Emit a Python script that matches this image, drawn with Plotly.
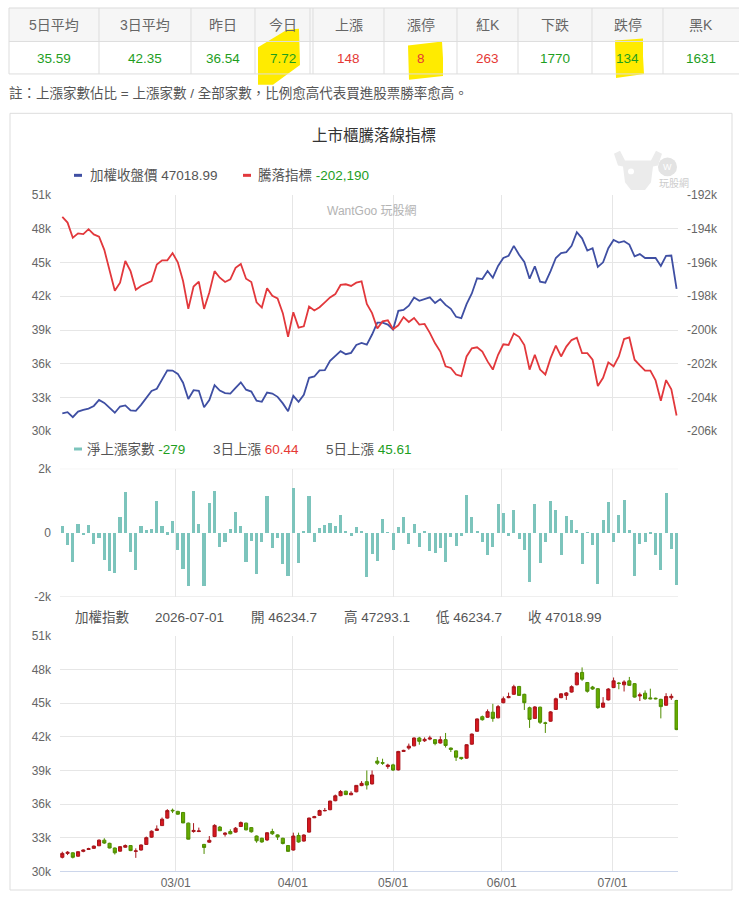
import plotly.graph_objects as go

W, H = 739, 898
FONT = "Arial, 'Liberation Sans', 'Noto Sans CJK TC', sans-serif"
TXT = "#555555"
AX = "#666666"
GRID = "#e6e6e6"
GREEN = "#1e9e1e"
RED = "#e53935"
BLUE = "#3f4fa3"
RED_LINE = "#e2383c"
TEAL = "#7cc4bc"
YELLOW = "#ffeb00"

# ---- summary table ----
table_heads = ["5日平均", "3日平均", "昨日", "今日", "上漲", "漲停", "紅K", "下跌", "跌停", "黑K"]
table_vals = ["35.59", "42.35", "36.54", "7.72", "148", "8", "263", "1770", "134", "1631"]
table_val_colors = [GREEN, GREEN, GREEN, GREEN, RED, RED, RED, GREEN, GREEN, GREEN]
note_text = "註：上漲家數佔比 = 上漲家數 / 全部家數，比例愈高代表買進股票勝率愈高。"

# ---- chart data (trading days) ----
month_ticks = [21.6, 43.9, 63.0, 83.7, 104.8]
month_labels = ["03/01", "04/01", "05/01", "06/01", "07/01"]

open_px = [31250, 31600, 31650, 31350, 31780, 31950, 32050, 32280, 32780, 32500,
           32080, 31800, 32150, 32300, 31780, 31900, 32400, 33050, 33650, 34080,
           34750, 35450, 35350, 35250, 34300, 33550, 33550, 32400, 32600, 33100,
           33950, 33300, 33550, 33500, 34000, 34300, 33900, 33150, 32950, 32800,
           33550, 33250, 32950, 32300, 31900, 33200, 32700, 33500, 34780, 35000,
           35400, 35500, 36300, 36750, 37150, 36830, 37100, 37650, 38000, 37800,
           39840, 39700, 39350, 39500, 39050, 40700, 41000, 41200, 41900, 41650,
           41800, 41750, 41450, 41750, 41000, 40750, 40170, 40100, 41350, 42500,
           43800, 43750, 44200, 43700, 45050, 45500, 45800, 46500, 45800, 44600,
           43650, 44650, 43250, 43400, 44450, 45500, 45700, 46000, 46650, 47750,
           46850, 46450, 46300, 44650, 45300, 46400, 46800, 46650, 47000, 46750,
           45650, 45900, 45480, 45450, 45350, 44820, 45490, 45250]
high_px = [31750, 31800, 31700, 31800, 31950, 32100, 32300, 32850, 32950, 32550,
           32120, 32250, 32400, 32350, 32050, 32400, 33100, 33650, 34100, 34800,
           35550, 35600, 35400, 35300, 34350, 34300, 33900, 32450, 33150, 34200,
           34050, 33500, 33750, 33950, 34450, 34350, 33950, 33200, 33000, 33500,
           33800, 33300, 33000, 32350, 33450, 33450, 33300, 34800, 34950, 35500,
           35650, 36300, 36850, 37250, 37200, 37150, 37700, 38050, 39000, 39000,
           40200, 40050, 39600, 39600, 40750, 40850, 41400, 41950, 42000, 41950,
           42100, 41800, 42050, 42350, 41050, 40800, 40200, 41350, 42300, 43650,
           43900, 44450, 44950, 44850, 45600, 45950, 46650, 46550, 45850, 44700,
           44750, 44700, 43350, 44300, 45500, 45900, 46000, 46600, 47800, 48200,
           46900, 46550, 46350, 45550, 46350, 47300, 46900, 47050, 47350, 46800,
           45950, 46150, 46300, 45500, 45400, 45900, 45850, 45300]
low_px = [31150, 31450, 31150, 31300, 31700, 31900, 32000, 32250, 32450, 32050,
          31500, 31750, 32100, 31800, 31200, 31850, 32380, 33000, 33600, 34050,
          34700, 35200, 35050, 34300, 32850, 33450, 33500, 31550, 32550, 33050,
          33600, 33100, 33300, 33450, 33950, 33650, 33450, 32550, 32550, 32700,
          33250, 32800, 32400, 31750, 31850, 32550, 32650, 33450, 34750, 34950,
          35350, 35450, 36250, 36700, 36800, 36800, 37050, 37600, 37300, 37750,
          39500, 39500, 39150, 38950, 39000, 40650, 40850, 41150, 41300, 41550,
          41700, 41250, 41400, 41050, 40650, 39850, 39950, 40050, 41300, 42450,
          43450, 43700, 43350, 43650, 45000, 45450, 45750, 45650, 44400, 42800,
          43600, 43150, 42350, 43350, 44400, 45450, 45300, 45950, 46600, 47000,
          45950, 46200, 44500, 44600, 45250, 46350, 46250, 46050, 46550, 45500,
          45200, 45300, 45350, 45350, 43650, 44800, 45300, 42600]
close_px = [31600, 31700, 31250, 31750, 31900, 32020, 32250, 32780, 32520, 32080,
            31650, 32200, 32300, 31850, 31820, 32350, 33000, 33580, 33780, 34650,
            35420, 35400, 35100, 34320, 32870, 33650, 33600, 32130, 32770, 34100,
            33620, 33400, 33350, 33850, 34350, 33700, 33530, 32720, 32620, 33440,
            33350, 33060, 32480, 31780, 33150, 32620, 33240, 34750, 34870, 35420,
            35430, 36270, 36740, 37120, 36850, 36970, 37670, 37850, 37700, 38600,
            39650, 39650, 39480, 39040, 40700, 40790, 41170, 41900, 41600, 41780,
            41900, 41400, 41750, 41230, 40880, 40180, 40060, 41300, 42250, 43600,
            43530, 44250, 43650, 44700, 45400, 45600, 46480, 45700, 45050, 43560,
            44670, 43300, 43210, 44230, 45400, 45840, 45920, 46480, 47700, 47150,
            46070, 46270, 44610, 45020, 46270, 47000, 46770, 46900, 46600, 45550,
            45750, 45400, 45400, 45400, 44700, 45600, 45620, 42650]
ad_line = [-193300, -193633, -194528, -194275, -194314, -194022, -194333, -194470, -195247, -196414,
           -197677, -197191, -195908, -196511, -197619, -197386, -197250, -197094, -196122, -195870,
           -195870, -195442, -195986, -197094, -198747, -197425, -197133, -198747, -197775, -196511,
           -196900, -197153, -196997, -196317, -196083, -196958, -197153, -198358, -198669, -197522,
           -197969, -198125, -199000, -200400, -198942, -199857, -199780, -198611, -198844, -198650,
           -198358, -198067, -197872, -197328, -197289, -197386, -197191, -197114, -198456, -199000,
           -199913, -199486, -199428, -199953, -199720, -199233, -199525, -199291, -199680, -199641,
           -200166, -200788, -201275, -202150, -202247, -202636, -202733, -201566, -201080, -201022,
           -201275, -201858, -202344, -201469, -200847, -200886, -200205, -200400, -200886, -202344,
           -201469, -202344, -202636, -201664, -200925, -201566, -200983, -200594, -200458, -201372,
           -201372, -201761, -203316, -202830, -201917, -202150, -201566, -200536, -200439, -201761,
           -202091, -202402, -202402, -202986, -204191, -202966, -203510, -205066]
net_adv = [205, -380, -913, 287, -72, 256, -349, -144, -841, -1180,
           -1241, 503, 1272, -605, -1149, 226, 103, 133, 1005, 226,
           -51, 380, -534, -1118, -1672, 1303, 287, -1642, 934, 1303,
           -441, -287, 133, 657, 226, -913, -236, -1272, -287, 1149,
           -472, -164, -975, -1354, 1395, -934, 72, 1149, -287, 164,
           236, 318, 205, 564, 31, -92, 195, 41, -1365,
           -657, -872, 441, 10, -534, 195, 503, -349, 287, -441,
           72, -564, -636, -472, -903, -133, -410, -92, 1180, 503,
           51, -287, -698, -441, 903, 626, -92, 728, -195, -534,
           -1518, 903, -934, -287, 995, 728, -698, 534, 410, 103,
           -964, 10, -380, -1580, 410, 964, -287, 564, 1026, 103,
           -1334, -349, -287, -20, -698, -1149, 1241, -503, -1631]

price_ticks = [30000, 33000, 36000, 39000, 42000, 45000, 48000, 51000]
price_labels = ["30k", "33k", "36k", "39k", "42k", "45k", "48k", "51k"]
ad_ticks = [-206000, -204000, -202000, -200000, -198000, -196000, -194000, -192000]
ad_labels = ["-206k", "-204k", "-202k", "-200k", "-198k", "-196k", "-194k", "-192k"]
net_ticks = [-2000, 0, 2000]
net_labels = ["-2k", "0", "2k"]


def px(x):
    return x / W


def py(y):
    return 1 - y / H


def ann(x, y, text, size=13.5, color=TXT, xanchor="left"):
    return dict(x=px(x), y=py(y), xref="paper", yref="paper", text=text, showarrow=False,
                xanchor=xanchor, yanchor="middle", font=dict(size=size, color=color, family=FONT))


def line(x0, y0, x1, y1, color="#dddddd", width=1):
    return dict(type="line", xref="paper", yref="paper", x0=px(x0), y0=py(y0), x1=px(x1), y1=py(y1),
                line=dict(color=color, width=width))


def rect(x0, y0, x1, y1, fill=None, color=None, width=1):
    return dict(type="rect", xref="paper", yref="paper", x0=px(x0), y0=py(y0), x1=px(x1), y1=py(y1),
                fillcolor=fill or "rgba(0,0,0,0)", line=dict(color=color or "rgba(0,0,0,0)", width=width),
                layer="below")


def poly(pts, fill):
    d = "M " + " L ".join(f"{px(a):.5f},{py(b):.5f}" for a, b in pts) + " Z"
    return dict(type="path", xref="paper", yref="paper", path=d, fillcolor=fill,
                line=dict(width=0), layer="below")


x_idx = list(range(len(close_px)))

fig = go.Figure()
fig.add_trace(go.Scatter(x=x_idx, y=close_px, mode="lines", line=dict(color=BLUE, width=1.8),
                         xaxis="x", yaxis="y", hoverinfo="skip"))
fig.add_trace(go.Scatter(x=x_idx, y=ad_line, mode="lines", line=dict(color=RED_LINE, width=1.8),
                         xaxis="x", yaxis="y2", hoverinfo="skip"))
fig.add_trace(go.Bar(x=x_idx, y=net_adv, width=0.6, marker=dict(color=TEAL, line=dict(width=0)),
                     xaxis="x2", yaxis="y3", hoverinfo="skip"))
fig.add_trace(go.Candlestick(x=x_idx, open=open_px, high=high_px, low=low_px, close=close_px,
                             xaxis="x3", yaxis="y4", whiskerwidth=0,
                             increasing=dict(line=dict(color="#a8151b", width=1), fillcolor="#d7171f"),
                             decreasing=dict(line=dict(color="#4f8d00", width=1), fillcolor="#66ab00"),
                             hoverinfo="skip"))

xcommon = dict(domain=[px(60), px(678)], range=[-0.44, 117.27], tickvals=month_ticks, ticktext=month_labels,
               showgrid=True, gridcolor=GRID, gridwidth=1, zeroline=False, ticks="", fixedrange=True,
               tickfont=dict(size=12, color=AX, family=FONT))
ycommon = dict(gridcolor=GRID, gridwidth=1, zeroline=False, ticks="", fixedrange=True,
               ticklabelstandoff=8, tickfont=dict(size=12, color=AX, family=FONT))

shapes = []
# table
shapes.append(rect(9, 1, 739, 35, fill="#f6f6f6"))
for yy in [1, 35, 68]:
    shapes.append(line(9, yy, 739, yy))
col_edges = [9, 99, 191, 255, 310, 313, 384, 457, 518, 592, 663]
for xx in col_edges:
    shapes.append(line(xx, 1, xx, 68))
# highlighter marks
shapes.append(poly([(287, 23), (299, 22), (300, 59), (273, 79), (258, 79), (258, 41)], YELLOW))
shapes.append(poly([(408, 39), (425, 37), (442, 35), (443, 52), (443, 70), (425, 72), (409, 74)], YELLOW))
shapes.append(poly([(615, 34), (630, 33), (643, 32), (643, 50), (644, 68), (630, 70), (616, 72)], YELLOW))
# panel border
shapes.append(rect(10, 108, 732, 897, color="#dddddd"))
# legend markers
shapes.append(line(74, 171, 82, 171, BLUE, 3))
shapes.append(line(243, 171, 251, 171, RED_LINE, 3))
shapes.append(line(74, 449, 82, 449, TEAL, 3))
# bar pane: grid only at +2k / -2k (no line through zero)
for gy in [-2000, 2000]:
    shapes.append(dict(type="line", xref="x2 domain", yref="y3", x0=0, x1=1, y0=gy, y1=gy,
                       line=dict(color=GRID, width=1), layer="below"))
# faint bull logo
shapes.append(poly([(614, 149), (620, 146), (625, 156), (651, 156), (656, 146), (662, 149),
                    (658, 161), (653, 162), (651, 178), (645, 186), (631, 186), (625, 178),
                    (623, 162), (618, 161)], "#ebebeb"))
shapes.append(dict(type="circle", xref="paper", yref="paper", x0=px(628), y0=py(170), x1=px(634), y1=py(164),
                   fillcolor="#ffffff", line=dict(width=0), layer="below"))
shapes.append(dict(type="circle", xref="paper", yref="paper", x0=px(658), y0=py(172), x1=px(677), y1=py(153),
                   fillcolor="#e3e3e3", line=dict(width=0), layer="below"))

annotations = []
centers = [(col_edges[i] + col_edges[i + 1]) / 2 for i in range(3)]
centers += [(255 + 310) / 2]
edges_r = [313, 384, 457, 518, 592, 663, 739]
centers += [(edges_r[i] + edges_r[i + 1]) / 2 for i in range(6)]
for cx, head, val, col in zip(centers, table_heads, table_vals, table_val_colors):
    annotations.append(ann(cx, 18, head, size=14, color=AX, xanchor="center"))
    annotations.append(ann(cx, 52, val, size=13.5, color=col, xanchor="center"))
annotations.append(ann(7, 87, note_text, size=13.5, color=TXT))

annotations.append(ann(374, 131, "上市櫃騰落線指標", size=15.5, color="#333333", xanchor="center"))
annotations.append(ann(88, 171, "加權收盤價 47018.99", size=13.5, color=TXT))
annotations.append(ann(256, 171, "騰落指標 <span style='color:#1e9e1e'>-202,190</span>", size=13.5, color=TXT))
annotations.append(ann(372, 207, "WantGoo 玩股網", size=12, color="#b3b3b3", xanchor="center"))
annotations.append(ann(674, 179, "玩股網", size=10, color="#cccccc", xanchor="center"))
annotations.append(ann(667.5, 162.5, "W", size=9, color="#ffffff", xanchor="center"))

annotations.append(ann(85, 449, "淨上漲家數 <span style='color:#1e9e1e'>-279</span>", size=13.5, color=TXT))
annotations.append(ann(211, 449, "3日上漲 <span style='color:#e53935'>60.44</span>", size=13.5, color=TXT))
annotations.append(ann(324, 449, "5日上漲 <span style='color:#1e9e1e'>45.61</span>", size=13.5, color=TXT))

info = [(73, "加權指數"), (153, "2026-07-01"), (249, "開 46234.7"), (342, "高 47293.1"),
        (434, "低 46234.7"), (526, "收 47018.99")]
for xx, t in info:
    annotations.append(ann(xx, 620, t, size=13.5, color=TXT))

fig.update_layout(
    width=W, height=H, margin=dict(l=0, r=0, t=0, b=0),
    paper_bgcolor="white", plot_bgcolor="rgba(0,0,0,0)",
    showlegend=False, bargap=0, boxgap=0.15,
    font=dict(family=FONT, size=12, color=AX),
    xaxis=dict(**xcommon, anchor="y", showticklabels=False),
    xaxis2=dict(**xcommon, anchor="y3", showticklabels=False),
    xaxis3=dict(**xcommon, anchor="y4", showticklabels=True, rangeslider=dict(visible=False),
                showline=True, linecolor="#ccd6eb", linewidth=1),
    yaxis=dict(**ycommon, domain=[py(431), py(191)], range=[30000, 51000],
               tickvals=price_ticks, ticktext=price_labels, anchor="x"),
    yaxis2=dict(**ycommon, overlaying="y", side="right", range=[-206000, -192000],
                tickvals=ad_ticks, ticktext=ad_labels, showgrid=False, anchor="x"),
    yaxis3=dict(**{**ycommon, "showgrid": False}, domain=[py(599), py(469)], range=[-2000, 2000],
                tickvals=net_ticks, ticktext=net_labels, anchor="x2"),
    yaxis4=dict(**ycommon, domain=[py(878), py(639)], range=[30000, 51000],
                tickvals=price_ticks, ticktext=price_labels, anchor="x3"),
    shapes=shapes,
    annotations=annotations,
)

# page body margin off so the figure sits at the window's top-left corner
fig.write_html("out.html", config={"displayModeBar": False},
               post_script="document.body.style.margin='0';document.body.style.overflow='hidden';")
